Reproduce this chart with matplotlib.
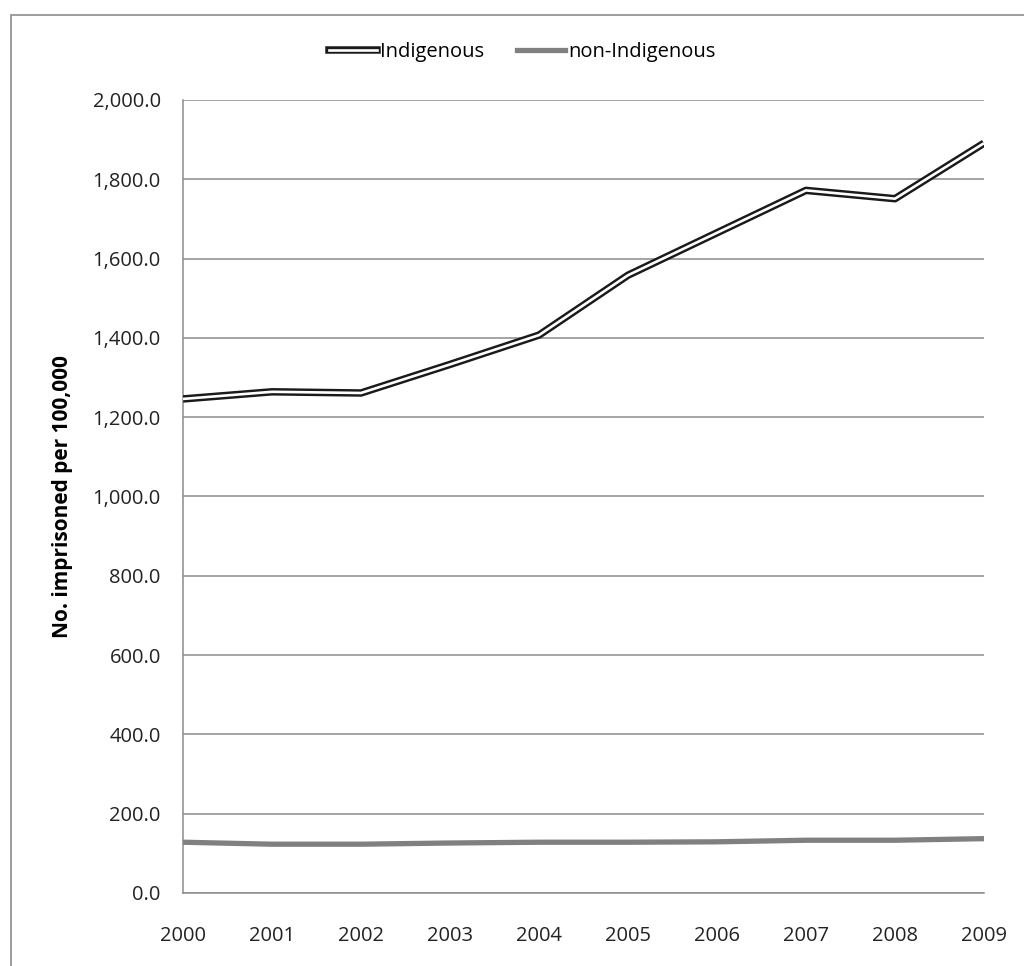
import matplotlib.pyplot as plt
from matplotlib.lines import Line2D
from matplotlib.patches import Rectangle
from matplotlib.ticker import FuncFormatter
from matplotlib.legend_handler import HandlerTuple

plt.rcParams['font.family'] = ['Open Sans', 'DejaVu Sans']

years = [2000, 2001, 2002, 2003, 2004, 2005, 2006, 2007, 2008, 2009]
indigenous = [1246, 1264, 1261, 1333, 1407, 1558, 1665, 1772, 1751, 1891]
non_indigenous = [128, 123, 123, 126, 128, 128, 129, 133, 133, 137]

fig = plt.figure(figsize=(10.24, 9.66), dpi=100)
ax = fig.add_axes([0.1787, 0.0756, 0.7822, 0.8209])

# outer chart border (only left and top visible in the reference)
fig.patches.append(Rectangle((11 / 1024, -0.2), 1.5, 1.2 - 15 / 966,
                             transform=fig.transFigure, fill=False,
                             edgecolor='#8c8c8c', linewidth=1.2))

ax.plot(years, non_indigenous, color='#808080', linewidth=3.8,
        solid_capstyle='butt', zorder=3)
ax.plot(years, indigenous, color='#1a1a1a', linewidth=5.4,
        solid_capstyle='butt', zorder=4)
ax.plot(years, indigenous, color='white', linewidth=1.9,
        solid_capstyle='butt', zorder=5)

ax.set_xlim(2000, 2009)
ax.set_ylim(0, 2000)
ax.set_yticks(range(0, 2001, 200))
ax.set_xticks(years)
ax.yaxis.set_major_formatter(FuncFormatter(lambda v, p: f'{v:,.1f}'))
ax.tick_params(length=0, labelsize=14.5, colors='#222222')
ax.tick_params(axis='y', pad=16)
ax.tick_params(axis='x', pad=24)
ax.grid(axis='y', color='#8c8c8c', linewidth=1.1)
ax.set_axisbelow(True)
for s in ['top', 'right']:
    ax.spines[s].set_visible(False)
ax.spines['left'].set_color('#8c8c8c')
ax.spines['bottom'].set_color('#8c8c8c')
ax.spines['left'].set_linewidth(1.1)
ax.spines['bottom'].set_linewidth(1.1)

ax.set_ylabel('No. imprisoned per 100,000', fontsize=15, fontweight='bold',
              labelpad=14)

h1 = (Line2D([], [], color='#1a1a1a', linewidth=5.4),
      Line2D([], [], color='white', linewidth=1.9))
h2 = Line2D([], [], color='#808080', linewidth=3.8)
fig.legend([h1, h2], ['Indigenous', 'non-Indigenous'],
           handler_map={tuple: HandlerTuple(ndivide=1, pad=0)},
           loc='center', bbox_to_anchor=(0.51, 0.946), ncol=2, frameon=False,
           fontsize=14.5, handlelength=2.4, handletextpad=0.15,
           columnspacing=1.6)

fig.savefig('out.png', dpi=100, facecolor='white')
